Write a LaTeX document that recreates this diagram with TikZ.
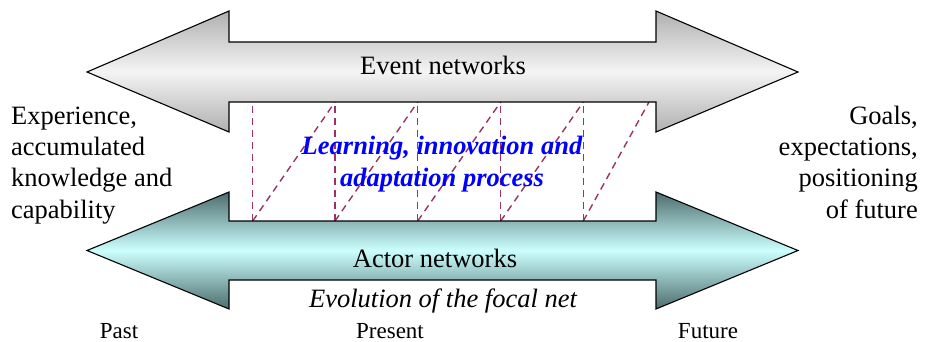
\documentclass[tikz,border=0pt]{standalone}
\usepackage{fontspec}
\setmainfont{Liberation Serif}
\definecolor{dashc}{HTML}{993366}
\definecolor{grayedge}{HTML}{B0B0B0}
\definecolor{graymid}{HTML}{F4F4F4}
\definecolor{cyanedge}{HTML}{4C6C6C}
\definecolor{cyanmid}{HTML}{CCFFFF}
\definecolor{procblue}{HTML}{0000FF}
\tikzset{
  bigarrow/.style={draw=black, line width=1.1pt, line join=miter},
  evtarrow/.style={bigarrow, top color=grayedge, bottom color=grayedge, middle color=graymid},
  actarrow/.style={bigarrow, top color=cyanedge, bottom color=cyanedge, middle color=cyanmid},
  procline/.style={draw=dashc, line width=1.4pt, dash pattern=on 7pt off 5pt},
  lbl/.style={font=\fontsize{26.5}{31.3}\selectfont, inner sep=0pt},
  timelbl/.style={font=\fontsize{23}{27}\selectfont, inner sep=0pt, anchor=base},
}
\begin{document}
\begin{tikzpicture}[x=1pt, y=-1pt]
\useasboundingbox (0,0) rectangle (926,342);

% dashed process lines
\foreach \i/\xa in {1/252.7, 2/335, 3/417.7, 4/500.7, 5/583.3} {
  \coordinate (vt\i) at (\xa,102);
  \coordinate (vb\i) at (\xa,221);
}
\coordinate (vt6) at (649,102);
\foreach \i in {1,...,5} {
  \draw[procline] (vb\i) -- (vt\i);
}
\foreach \i/\j in {1/2, 2/3, 3/4, 4/5, 5/6} {
  \draw[procline] (vb\i) -- (vt\j);
}

% event networks arrow
\path[evtarrow] (87,72) -- (229,11) -- (229,42) -- (656,42) -- (656,11) -- (798,72)
  -- (656,132) -- (656,102) -- (229,102) -- (229,132) -- cycle;
% actor networks arrow
\path[actarrow] (87,250.5) -- (229,192) -- (229,221) -- (656,221) -- (656,192) -- (798,250.5)
  -- (656,309) -- (656,280) -- (229,280) -- (229,309) -- cycle;

% labels
\node[lbl, anchor=base] (evt) at (443,75) {Event networks};
\node[lbl, anchor=base] (act) at (435,267) {Actor networks};
\node[lbl, anchor=base, font=\fontsize{26.5}{31.3}\selectfont\itshape] (evo) at (443,307) {Evolution of the focal net};
\node[lbl, anchor=base, align=center, text=procblue,
      font=\fontsize{26.5}{32}\selectfont\bfseries\itshape] (proc) at (442,186)
  {Learning, innovation and\\adaptation process};
\node[lbl, anchor=base west, align=left] (past) at (11,218)
  {Experience,\\accumulated\\knowledge and\\capability};
\node[lbl, anchor=base east, align=right] (fut) at (918,218)
  {Goals,\\expectations,\\positioning\\of future};
\node[timelbl] (tpast) at (119,338) {Past};
\node[timelbl] (tpres) at (390,338) {Present};
\node[timelbl] (tfut) at (708,338) {Future};
\end{tikzpicture}
\end{document}
